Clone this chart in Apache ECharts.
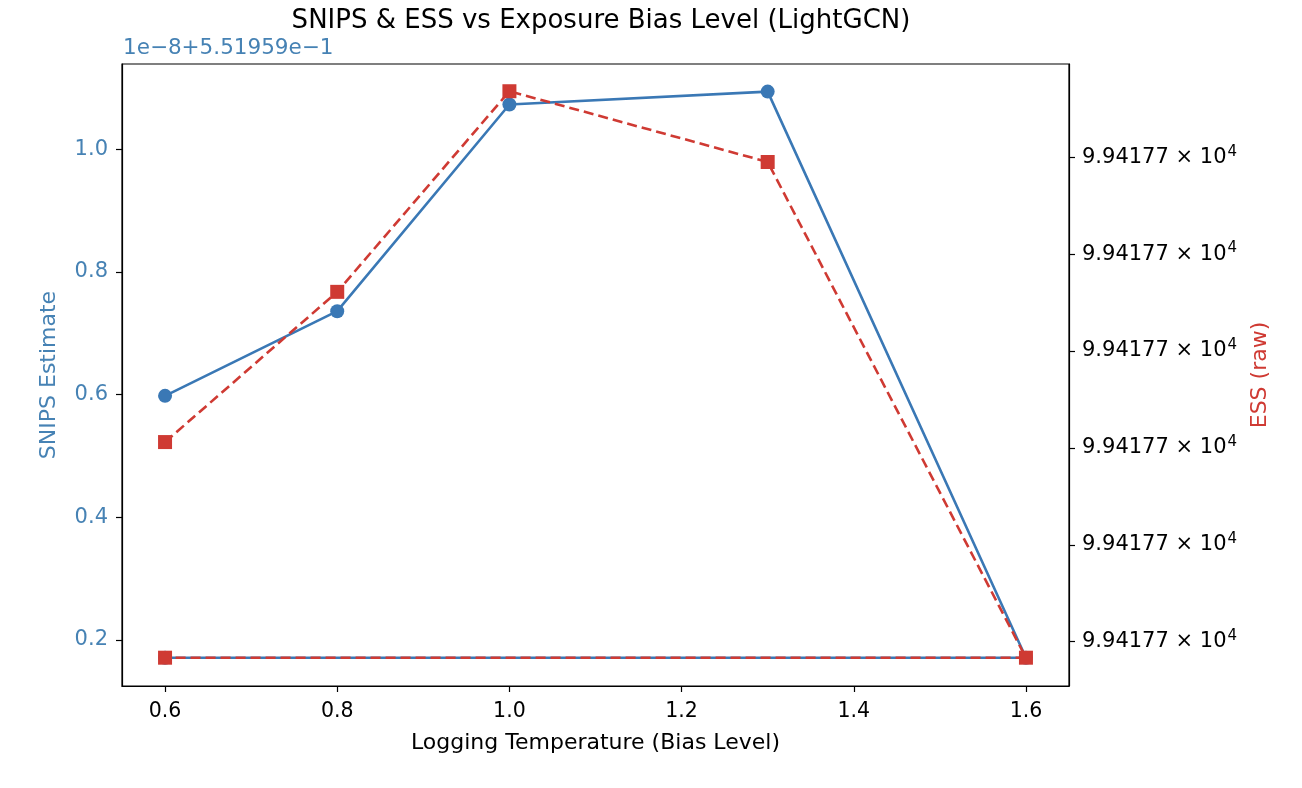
<!DOCTYPE html>
<html>
<head>
<meta charset="utf-8">
<script src="https://cdn.jsdelivr.net/npm/echarts@6/dist/echarts.min.js"></script>
<style>
  html, body { margin: 0; padding: 0; background: #fff; }
  #chart { width: 1302px; height: 788px; }
</style>
</head>
<body>
<div id="chart"></div>
<script>
// logging temperatures, in the order they were plotted (last point wraps back to 0.6)
const temps = [0.6, 0.8, 1.0, 1.3, 1.6, 0.6];
// SNIPS estimate, shown as offset from 5.51959e-1 in units of 1e-8
const snips = [0.598, 0.736, 1.073, 1.094, 0.171, 0.171];
// ESS in tick steps (all ticks read 9.94177 x 10^4)
const ess = [2.06, 3.61, 5.68, 4.95, -0.165, -0.165];
const xTicks = [0.6, 0.8, 1.0, 1.2, 1.4, 1.6];
const snipsTicks = [0.2, 0.4, 0.6, 0.8, 1.0];
const essTicks = [0, 1, 2, 3, 4, 5];
const essMantissa = '9.94177 × 10';
const essExp = '4';

const BLUE = '#3a78b5';
const BLUE_TXT = '#4682b4';
const RED = '#cf3a33';
const FONT = 'DejaVu Sans';

let chart = echarts.init(document.getElementById('chart'), null, {renderer: 'canvas'});

const option = {
  backgroundColor: '#fff',
  animation: false,
  textStyle: {fontFamily: FONT},
  title: {
    text: 'SNIPS & ESS vs Exposure Bias Level (LightGCN)',
    left: 596, top: 3, textAlign: 'center',
    textStyle: {fontFamily: FONT, fontSize: 26, fontWeight: 'normal', color: '#000'}
  },
  graphic: [{
    type: 'text', left: 123, top: 37,
    style: {text: '1e−8+5.51959e−1', fontFamily: FONT, fontSize: 21.5, fill: BLUE_TXT}
  }],
  grid: {
    left: 122, right: 233, top: 64, bottom: 102,
    show: true, borderColor: '#000', borderWidth: 1.2, backgroundColor: 'transparent'
  },
  xAxis: {
    type: 'value', min: 0.55, max: 1.65,
    name: 'Logging Temperature (Bias Level)', nameLocation: 'middle', nameGap: 46,
    nameTextStyle: {fontFamily: FONT, fontSize: 22, color: '#000'},
    axisLine: {show: true, onZero: false, lineStyle: {color: '#000', width: 1.2}},
    axisTick: {show: true, length: 6, customValues: xTicks, lineStyle: {color: '#000', width: 1.2}},
    axisLabel: {customValues: xTicks, fontFamily: FONT, fontSize: 20.5, color: '#000', margin: 15,
      formatter: v => v.toFixed(1)},
    splitLine: {show: false}
  },
  yAxis: [{
    type: 'value', min: 0.125, max: 1.139, position: 'left',
    name: 'SNIPS Estimate', nameLocation: 'middle', nameGap: 62, nameRotate: 90,
    nameTextStyle: {fontFamily: FONT, fontSize: 22, color: BLUE_TXT},
    axisLine: {show: true, onZero: false, lineStyle: {color: '#000', width: 1.2}},
    axisTick: {show: true, length: 6, customValues: snipsTicks, lineStyle: {color: '#000', width: 1.2}},
    axisLabel: {customValues: snipsTicks, fontFamily: FONT, fontSize: 21, color: BLUE_TXT, margin: 14,
      formatter: v => v.toFixed(1)},
    splitLine: {show: false}
  }, {
    type: 'value', min: -0.457, max: 5.961, position: 'right',
    name: 'ESS (raw)', nameLocation: 'middle', nameGap: 180, nameRotate: 90,
    nameTextStyle: {fontFamily: FONT, fontSize: 22, color: RED},
    axisLine: {show: true, onZero: false, lineStyle: {color: '#000', width: 1.2}},
    axisTick: {show: true, length: 6, customValues: essTicks, lineStyle: {color: '#000', width: 1.2}},
    axisLabel: {customValues: essTicks, fontFamily: FONT, fontSize: 21, color: '#000', margin: 13,
      formatter: () => '{m|' + essMantissa + '}{e|' + essExp + '}',
      rich: {
        m: {fontFamily: FONT, fontSize: 21, color: '#000'},
        e: {fontFamily: FONT, fontSize: 15, color: '#000', verticalAlign: 'bottom', padding: [0, 0, 11, 1]}
      }},
    splitLine: {show: false}
  }],
  series: [{
    name: 'SNIPS', type: 'line', yAxisIndex: 0,
    data: temps.map((t, i) => [t, snips[i]]),
    symbol: 'circle', symbolSize: 14,
    itemStyle: {color: BLUE},
    lineStyle: {color: BLUE, width: 2.6},
    z: 2
  }, {
    name: 'ESS', type: 'line', yAxisIndex: 1,
    data: temps.map((t, i) => [t, ess[i]]),
    symbol: 'rect', symbolSize: 14,
    itemStyle: {color: RED},
    lineStyle: {color: RED, width: 2.6, type: [10, 5]},
    z: 3
  }]
};

chart.setOption(option);
</script>
</body>
</html>
